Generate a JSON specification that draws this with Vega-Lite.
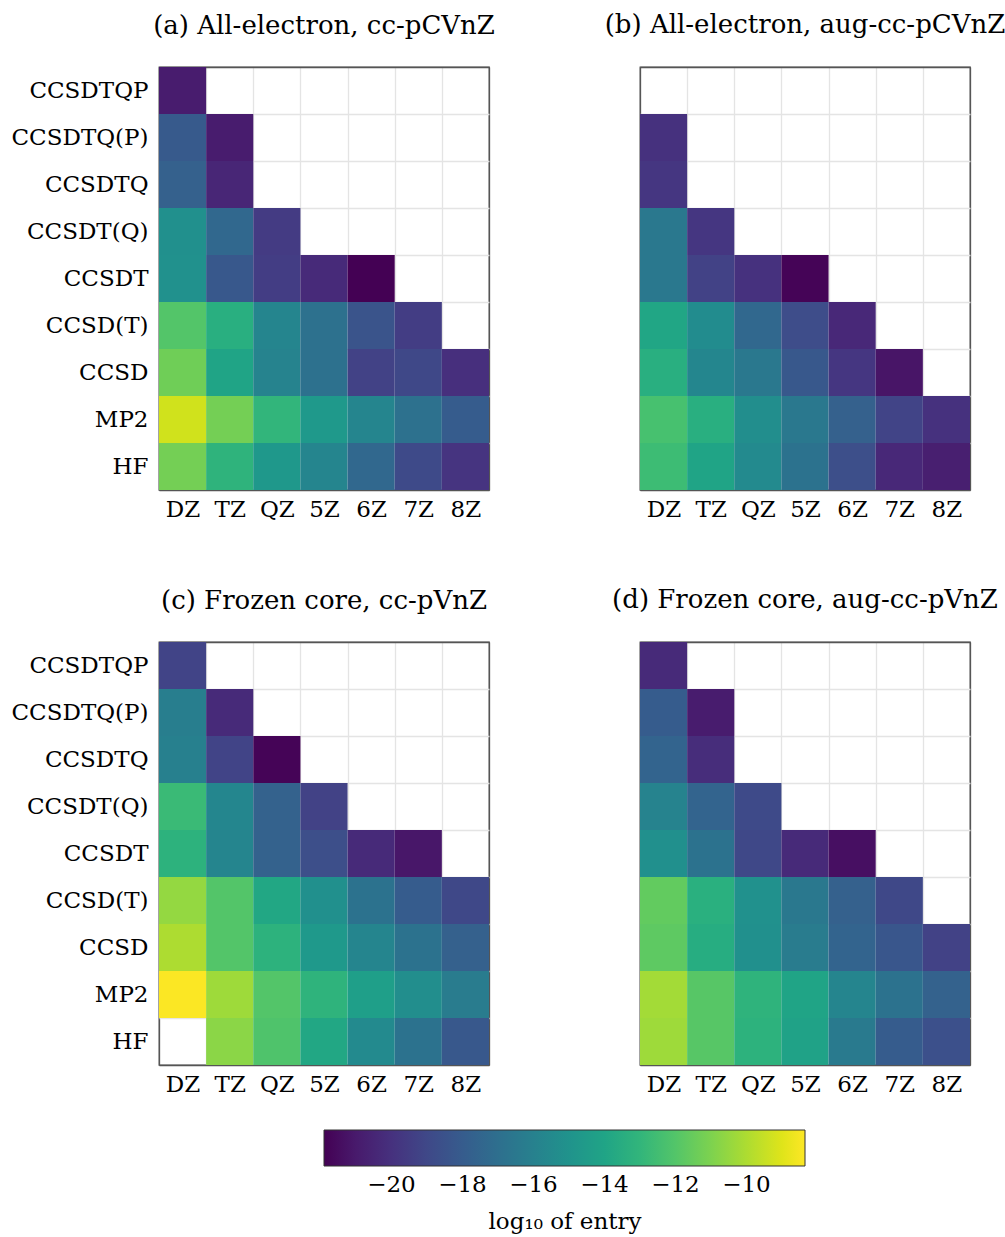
{
  "$schema": "https://vega.github.io/schema/vega-lite/v6.json",
  "padding": {"left": 10, "top": 11, "right": 0, "bottom": 0},
  "background": "white",
  "config": {
    "font": "DejaVu Serif",
    "view": {"stroke": "#555555", "strokeWidth": 1.3},
    "axis": {"labelFont": "DejaVu Serif", "labelFontSize": 23, "labelColor": "black", "ticks": false, "domain": false, "title": null, "grid": true, "zindex": 1,
      "gridColor": {"condition": {"test": "datum.extra || datum.index === 1", "value": "#555555"}, "value": "#e4e4e4"},
      "gridWidth": 1.3, "tickBand": "extent"},
    "title": {"font": "DejaVu Serif", "fontSize": 26, "fontWeight": "normal", "color": "black", "baseline": "alphabetic", "anchor": "middle"}
  },
  "data": {"values": [
    {"p":"a","m":"CCSDTQP","b":"DZ","v":-20.9},
    {"p":"a","m":"CCSDTQ(P)","b":"DZ","v":-18.1},{"p":"a","m":"CCSDTQ(P)","b":"TZ","v":-20.9},
    {"p":"a","m":"CCSDTQ","b":"DZ","v":-17.8},{"p":"a","m":"CCSDTQ","b":"TZ","v":-20.5},
    {"p":"a","m":"CCSDT(Q)","b":"DZ","v":-15.2},{"p":"a","m":"CCSDT(Q)","b":"TZ","v":-17.4},{"p":"a","m":"CCSDT(Q)","b":"QZ","v":-19.6},
    {"p":"a","m":"CCSDT","b":"DZ","v":-15.1},{"p":"a","m":"CCSDT","b":"TZ","v":-18.2},{"p":"a","m":"CCSDT","b":"QZ","v":-19.5},{"p":"a","m":"CCSDT","b":"5Z","v":-20.3},{"p":"a","m":"CCSDT","b":"6Z","v":-21.9},
    {"p":"a","m":"CCSD(T)","b":"DZ","v":-12.0},{"p":"a","m":"CCSD(T)","b":"TZ","v":-13.4},{"p":"a","m":"CCSD(T)","b":"QZ","v":-15.8},{"p":"a","m":"CCSD(T)","b":"5Z","v":-16.9},{"p":"a","m":"CCSD(T)","b":"6Z","v":-18.4},{"p":"a","m":"CCSD(T)","b":"7Z","v":-19.5},
    {"p":"a","m":"CCSD","b":"DZ","v":-11.3},{"p":"a","m":"CCSD","b":"TZ","v":-14.0},{"p":"a","m":"CCSD","b":"QZ","v":-15.9},{"p":"a","m":"CCSD","b":"5Z","v":-16.9},{"p":"a","m":"CCSD","b":"6Z","v":-19.3},{"p":"a","m":"CCSD","b":"7Z","v":-19.0},{"p":"a","m":"CCSD","b":"8Z","v":-20.1},
    {"p":"a","m":"MP2","b":"DZ","v":-9.3},{"p":"a","m":"MP2","b":"TZ","v":-11.2},{"p":"a","m":"MP2","b":"QZ","v":-13.0},{"p":"a","m":"MP2","b":"5Z","v":-14.6},{"p":"a","m":"MP2","b":"6Z","v":-15.8},{"p":"a","m":"MP2","b":"7Z","v":-16.9},{"p":"a","m":"MP2","b":"8Z","v":-18.0},
    {"p":"a","m":"HF","b":"DZ","v":-11.2},{"p":"a","m":"HF","b":"TZ","v":-13.1},{"p":"a","m":"HF","b":"QZ","v":-14.7},{"p":"a","m":"HF","b":"5Z","v":-15.8},{"p":"a","m":"HF","b":"6Z","v":-17.4},{"p":"a","m":"HF","b":"7Z","v":-18.9},{"p":"a","m":"HF","b":"8Z","v":-19.9},

    {"p":"b","m":"CCSDTQ(P)","b":"DZ","v":-20.0},
    {"p":"b","m":"CCSDTQ","b":"DZ","v":-19.8},
    {"p":"b","m":"CCSDT(Q)","b":"DZ","v":-16.5},{"p":"b","m":"CCSDT(Q)","b":"TZ","v":-19.8},
    {"p":"b","m":"CCSDT","b":"DZ","v":-16.5},{"p":"b","m":"CCSDT","b":"TZ","v":-19.3},{"p":"b","m":"CCSDT","b":"QZ","v":-20.0},{"p":"b","m":"CCSDT","b":"5Z","v":-21.8},
    {"p":"b","m":"CCSD(T)","b":"DZ","v":-13.9},{"p":"b","m":"CCSD(T)","b":"TZ","v":-15.4},{"p":"b","m":"CCSD(T)","b":"QZ","v":-17.4},{"p":"b","m":"CCSD(T)","b":"5Z","v":-18.8},{"p":"b","m":"CCSD(T)","b":"6Z","v":-20.4},
    {"p":"b","m":"CCSD","b":"DZ","v":-13.4},{"p":"b","m":"CCSD","b":"TZ","v":-15.7},{"p":"b","m":"CCSD","b":"QZ","v":-16.5},{"p":"b","m":"CCSD","b":"5Z","v":-18.2},{"p":"b","m":"CCSD","b":"6Z","v":-19.8},{"p":"b","m":"CCSD","b":"7Z","v":-21.2},
    {"p":"b","m":"MP2","b":"DZ","v":-12.3},{"p":"b","m":"MP2","b":"TZ","v":-13.4},{"p":"b","m":"MP2","b":"QZ","v":-15.3},{"p":"b","m":"MP2","b":"5Z","v":-16.5},{"p":"b","m":"MP2","b":"6Z","v":-17.8},{"p":"b","m":"MP2","b":"7Z","v":-19.2},{"p":"b","m":"MP2","b":"8Z","v":-20.0},
    {"p":"b","m":"HF","b":"DZ","v":-12.6},{"p":"b","m":"HF","b":"TZ","v":-14.0},{"p":"b","m":"HF","b":"QZ","v":-15.5},{"p":"b","m":"HF","b":"5Z","v":-16.8},{"p":"b","m":"HF","b":"6Z","v":-18.7},{"p":"b","m":"HF","b":"7Z","v":-20.4},{"p":"b","m":"HF","b":"8Z","v":-20.8},

    {"p":"c","m":"CCSDTQP","b":"DZ","v":-19.2},
    {"p":"c","m":"CCSDTQ(P)","b":"DZ","v":-16.2},{"p":"c","m":"CCSDTQ(P)","b":"TZ","v":-20.3},
    {"p":"c","m":"CCSDTQ","b":"DZ","v":-16.1},{"p":"c","m":"CCSDTQ","b":"TZ","v":-19.2},{"p":"c","m":"CCSDTQ","b":"QZ","v":-21.8},
    {"p":"c","m":"CCSDT(Q)","b":"DZ","v":-12.7},{"p":"c","m":"CCSDT(Q)","b":"TZ","v":-15.7},{"p":"c","m":"CCSDT(Q)","b":"QZ","v":-17.7},{"p":"c","m":"CCSDT(Q)","b":"5Z","v":-19.3},
    {"p":"c","m":"CCSDT","b":"DZ","v":-13.2},{"p":"c","m":"CCSDT","b":"TZ","v":-15.8},{"p":"c","m":"CCSDT","b":"QZ","v":-17.7},{"p":"c","m":"CCSDT","b":"5Z","v":-18.7},{"p":"c","m":"CCSDT","b":"6Z","v":-20.3},{"p":"c","m":"CCSDT","b":"7Z","v":-21.1},
    {"p":"c","m":"CCSD(T)","b":"DZ","v":-10.5},{"p":"c","m":"CCSD(T)","b":"TZ","v":-12.0},{"p":"c","m":"CCSD(T)","b":"QZ","v":-13.8},{"p":"c","m":"CCSD(T)","b":"5Z","v":-15.2},{"p":"c","m":"CCSD(T)","b":"6Z","v":-16.8},{"p":"c","m":"CCSD(T)","b":"7Z","v":-18.0},{"p":"c","m":"CCSD(T)","b":"8Z","v":-19.0},
    {"p":"c","m":"CCSD","b":"DZ","v":-10.0},{"p":"c","m":"CCSD","b":"TZ","v":-12.0},{"p":"c","m":"CCSD","b":"QZ","v":-13.2},{"p":"c","m":"CCSD","b":"5Z","v":-14.6},{"p":"c","m":"CCSD","b":"6Z","v":-15.8},{"p":"c","m":"CCSD","b":"7Z","v":-16.8},{"p":"c","m":"CCSD","b":"8Z","v":-17.8},
    {"p":"c","m":"MP2","b":"DZ","v":-8.4},{"p":"c","m":"MP2","b":"TZ","v":-10.3},{"p":"c","m":"MP2","b":"QZ","v":-12.0},{"p":"c","m":"MP2","b":"5Z","v":-13.1},{"p":"c","m":"MP2","b":"6Z","v":-14.3},{"p":"c","m":"MP2","b":"7Z","v":-15.3},{"p":"c","m":"MP2","b":"8Z","v":-16.3},
    {"p":"c","m":"HF","b":"TZ","v":-10.7},{"p":"c","m":"HF","b":"QZ","v":-12.1},{"p":"c","m":"HF","b":"5Z","v":-13.8},{"p":"c","m":"HF","b":"6Z","v":-15.5},{"p":"c","m":"HF","b":"7Z","v":-16.8},{"p":"c","m":"HF","b":"8Z","v":-18.2},

    {"p":"d","m":"CCSDTQP","b":"DZ","v":-20.3},
    {"p":"d","m":"CCSDTQ(P)","b":"DZ","v":-18.0},{"p":"d","m":"CCSDTQ(P)","b":"TZ","v":-20.9},
    {"p":"d","m":"CCSDTQ","b":"DZ","v":-17.6},{"p":"d","m":"CCSDTQ","b":"TZ","v":-20.2},
    {"p":"d","m":"CCSDT(Q)","b":"DZ","v":-15.9},{"p":"d","m":"CCSDT(Q)","b":"TZ","v":-17.6},{"p":"d","m":"CCSDT(Q)","b":"QZ","v":-18.9},
    {"p":"d","m":"CCSDT","b":"DZ","v":-15.2},{"p":"d","m":"CCSDT","b":"TZ","v":-16.8},{"p":"d","m":"CCSDT","b":"QZ","v":-19.0},{"p":"d","m":"CCSDT","b":"5Z","v":-20.3},{"p":"d","m":"CCSDT","b":"6Z","v":-21.4},
    {"p":"d","m":"CCSD(T)","b":"DZ","v":-11.6},{"p":"d","m":"CCSD(T)","b":"TZ","v":-13.3},{"p":"d","m":"CCSD(T)","b":"QZ","v":-15.1},{"p":"d","m":"CCSD(T)","b":"5Z","v":-16.5},{"p":"d","m":"CCSD(T)","b":"6Z","v":-17.8},{"p":"d","m":"CCSD(T)","b":"7Z","v":-19.0},
    {"p":"d","m":"CCSD","b":"DZ","v":-11.7},{"p":"d","m":"CCSD","b":"TZ","v":-13.5},{"p":"d","m":"CCSD","b":"QZ","v":-15.2},{"p":"d","m":"CCSD","b":"5Z","v":-16.3},{"p":"d","m":"CCSD","b":"6Z","v":-17.6},{"p":"d","m":"CCSD","b":"7Z","v":-18.3},{"p":"d","m":"CCSD","b":"8Z","v":-19.3},
    {"p":"d","m":"MP2","b":"DZ","v":-10.2},{"p":"d","m":"MP2","b":"TZ","v":-11.9},{"p":"d","m":"MP2","b":"QZ","v":-13.1},{"p":"d","m":"MP2","b":"5Z","v":-14.0},{"p":"d","m":"MP2","b":"6Z","v":-15.8},{"p":"d","m":"MP2","b":"7Z","v":-16.8},{"p":"d","m":"MP2","b":"8Z","v":-17.7},
    {"p":"d","m":"HF","b":"DZ","v":-10.3},{"p":"d","m":"HF","b":"TZ","v":-11.9},{"p":"d","m":"HF","b":"QZ","v":-13.2},{"p":"d","m":"HF","b":"5Z","v":-14.1},{"p":"d","m":"HF","b":"6Z","v":-16.4},{"p":"d","m":"HF","b":"7Z","v":-18.0},{"p":"d","m":"HF","b":"8Z","v":-18.6}
  ]},
  "columns": 2,
  "spacing": {"row": 152, "column": 151},
  "bounds": "flush",
  "resolve": {"scale": {"color": "shared"}, "legend": {"color": "shared"}},
  "concat": [
    {
      "title": {"text": "(a) All-electron, cc-pCVnZ", "offset": 17},
      "width": 330, "height": 423,
      "transform": [{"filter": "datum.p === 'a'"}],
      "mark": {"type": "rect", "strokeWidth": 0},
      "encoding": {
        "x": {"field": "b", "type": "nominal", "scale": {"domain": ["DZ","TZ","QZ","5Z","6Z","7Z","8Z"], "paddingInner": 0, "paddingOuter": 0}, "axis": {"labelAngle": 0, "labelPadding": 8}},
        "y": {"field": "m", "type": "nominal", "scale": {"domain": ["CCSDTQP","CCSDTQ(P)","CCSDTQ","CCSDT(Q)","CCSDT","CCSD(T)","CCSD","MP2","HF"], "paddingInner": 0, "paddingOuter": 0}, "axis": {"labelPadding": 11}},
        "color": {"field": "v", "type": "quantitative", "scale": {"scheme": "viridis", "domain": [-21.9, -8.35]},
          "legend": {"title": "log₁₀ of entry", "orient": "none", "direction": "horizontal", "legendX": 165, "legendY": 1063, "padding": 0, "gradientLength": 481, "gradientThickness": 36, "values": [-20,-18,-16,-14,-12,-10], "format": "d", "labelFont": "DejaVu Serif", "labelFontSize": 23, "labelColor": "black", "labelOffset": 8, "labelOverlap": false, "titleFont": "DejaVu Serif", "titleFontSize": 23, "titleFontWeight": "normal", "titleColor": "black", "titleOrient": "bottom", "titleAnchor": "middle", "titlePadding": 14, "gradientStrokeColor": "#333333", "gradientStrokeWidth": 1}}
      }
    },
    {
      "title": {"text": "(b) All-electron, aug-cc-pCVnZ", "offset": 29},
      "width": 330, "height": 423,
      "transform": [{"filter": "datum.p === 'b'"}],
      "mark": {"type": "rect", "strokeWidth": 0},
      "encoding": {
        "x": {"field": "b", "type": "nominal", "scale": {"domain": ["DZ","TZ","QZ","5Z","6Z","7Z","8Z"], "paddingInner": 0, "paddingOuter": 0}, "axis": {"labelAngle": 0, "labelPadding": 8}},
        "y": {"field": "m", "type": "nominal", "scale": {"domain": ["CCSDTQP","CCSDTQ(P)","CCSDTQ","CCSDT(Q)","CCSDT","CCSD(T)","CCSD","MP2","HF"], "paddingInner": 0, "paddingOuter": 0}, "axis": {"labels": false}},
        "color": {"field": "v", "type": "quantitative", "scale": {"scheme": "viridis", "domain": [-21.9, -8.35]},
          "legend": {"title": "log₁₀ of entry", "orient": "none", "direction": "horizontal", "legendX": 165, "legendY": 1063, "padding": 0, "gradientLength": 481, "gradientThickness": 36, "values": [-20,-18,-16,-14,-12,-10], "format": "d", "labelFont": "DejaVu Serif", "labelFontSize": 23, "labelColor": "black", "labelOffset": 8, "labelOverlap": false, "titleFont": "DejaVu Serif", "titleFontSize": 23, "titleFontWeight": "normal", "titleColor": "black", "titleOrient": "bottom", "titleAnchor": "middle", "titlePadding": 14, "gradientStrokeColor": "#333333", "gradientStrokeWidth": 1}}
      }
    },
    {
      "title": {"text": "(c) Frozen core, cc-pVnZ", "offset": 17},
      "width": 330, "height": 423,
      "transform": [{"filter": "datum.p === 'c'"}],
      "mark": {"type": "rect", "strokeWidth": 0},
      "encoding": {
        "x": {"field": "b", "type": "nominal", "scale": {"domain": ["DZ","TZ","QZ","5Z","6Z","7Z","8Z"], "paddingInner": 0, "paddingOuter": 0}, "axis": {"labelAngle": 0, "labelPadding": 8}},
        "y": {"field": "m", "type": "nominal", "scale": {"domain": ["CCSDTQP","CCSDTQ(P)","CCSDTQ","CCSDT(Q)","CCSDT","CCSD(T)","CCSD","MP2","HF"], "paddingInner": 0, "paddingOuter": 0}, "axis": {"labelPadding": 11}},
        "color": {"field": "v", "type": "quantitative", "scale": {"scheme": "viridis", "domain": [-21.9, -8.35]},
          "legend": {"title": "log₁₀ of entry", "orient": "none", "direction": "horizontal", "legendX": 165, "legendY": 1063, "padding": 0, "gradientLength": 481, "gradientThickness": 36, "values": [-20,-18,-16,-14,-12,-10], "format": "d", "labelFont": "DejaVu Serif", "labelFontSize": 23, "labelColor": "black", "labelOffset": 8, "labelOverlap": false, "titleFont": "DejaVu Serif", "titleFontSize": 23, "titleFontWeight": "normal", "titleColor": "black", "titleOrient": "bottom", "titleAnchor": "middle", "titlePadding": 14, "gradientStrokeColor": "#333333", "gradientStrokeWidth": 1}}
      }
    },
    {
      "title": {"text": "(d) Frozen core, aug-cc-pVnZ", "offset": 29},
      "width": 330, "height": 423,
      "transform": [{"filter": "datum.p === 'd'"}],
      "mark": {"type": "rect", "strokeWidth": 0},
      "encoding": {
        "x": {"field": "b", "type": "nominal", "scale": {"domain": ["DZ","TZ","QZ","5Z","6Z","7Z","8Z"], "paddingInner": 0, "paddingOuter": 0}, "axis": {"labelAngle": 0, "labelPadding": 8}},
        "y": {"field": "m", "type": "nominal", "scale": {"domain": ["CCSDTQP","CCSDTQ(P)","CCSDTQ","CCSDT(Q)","CCSDT","CCSD(T)","CCSD","MP2","HF"], "paddingInner": 0, "paddingOuter": 0}, "axis": {"labels": false}},
        "color": {"field": "v", "type": "quantitative", "scale": {"scheme": "viridis", "domain": [-21.9, -8.35]},
          "legend": {"title": "log₁₀ of entry", "orient": "none", "direction": "horizontal", "legendX": 165, "legendY": 1063, "padding": 0, "gradientLength": 481, "gradientThickness": 36, "values": [-20,-18,-16,-14,-12,-10], "format": "d", "labelFont": "DejaVu Serif", "labelFontSize": 23, "labelColor": "black", "labelOffset": 8, "labelOverlap": false, "titleFont": "DejaVu Serif", "titleFontSize": 23, "titleFontWeight": "normal", "titleColor": "black", "titleOrient": "bottom", "titleAnchor": "middle", "titlePadding": 14, "gradientStrokeColor": "#333333", "gradientStrokeWidth": 1}}
      }
    }
  ]
}
